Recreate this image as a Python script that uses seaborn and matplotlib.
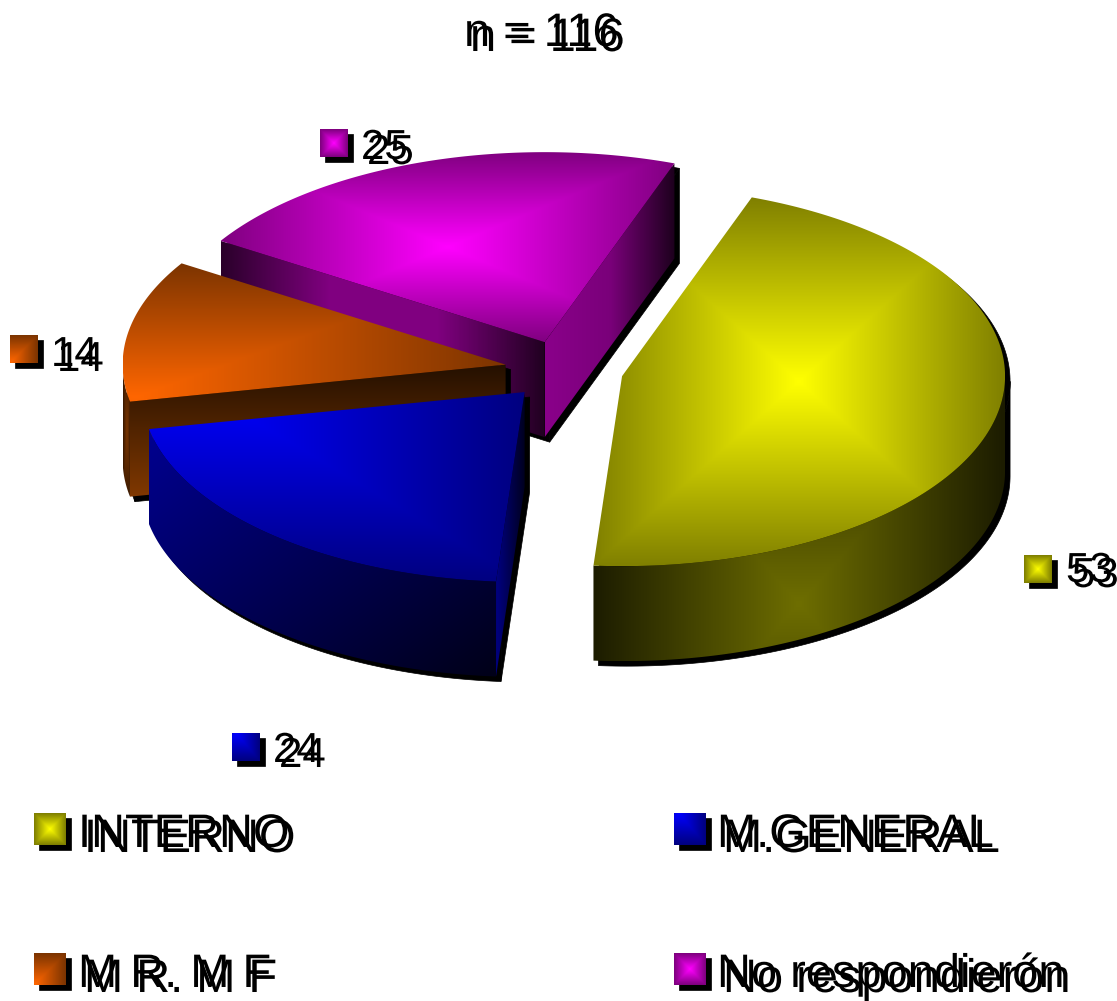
import itertools
import numpy as np
import matplotlib
matplotlib.use("Agg")
import matplotlib.pyplot as plt
import matplotlib.patheffects as pe
from matplotlib.patches import Polygon
import seaborn as sns

# ---- data ----
categories = ["INTERNO", "M.GENERAL", "M R. M F", "No respondierón"]
values = [53, 24, 14, 25]
title = "n = 116"

# ---- style / layout ----
sns.set_theme(style="white")
plt.rcParams["font.family"] = ["Liberation Sans", "DejaVu Sans"]
W, H = 1117, 1001
CX, CY, A, B, DEPTH, EXPLODE, START = 564, 370, 383, 190, 95, 0.155, 70.2
SHADOW = (5, 5)
FONT = 47 * 0.72
LABEL_FONT = 42 * 0.72
DRAW_ORDER = [3, 2, 1, 0]

top_stops = [["#ffff00", "#808000"], ["#0000ff", "#000080"], ["#ff6600", "#7c3400"], ["#ff00ff", "#800080"]]
top_focus = [(0.5, 0.5), (0.15, 0.0), (0.03, 0.97), (0.5, 0.5)]
rim_stops = [["#6e6e00", "#1c1c00"], ["#000090", "#000018"], ["#7a3500", "#3c1a00"], ["#800080", "#300030"]]
rim_focus = [(0.5, 0.8), None, (0.5, 0.5), (0.5, 0.5)]
# cut faces: start = first edge met going clockwise, end = last edge
start_face = [None, ("h", ["#000080", "#000020"]), ("v", ["#241000", "#803800"]),
              ("h", ["#2a002a", "#800080", "#800080", "#200020"])]
end_face = [None, None, None, ("h", ["#8a008a", "#7a007a", "#1e001e"])]

label_xy = [(1066, 582), (273, 762), (51, 366), (361, 159)]
mark_xy = [(1024, 555), (232, 733), (10, 335), (320, 129)]
legend_mark_xy = [(34, 813), (674, 813), (34, 953), (674, 953)]
legend_text_xy = [(78, 847), (717, 847), (78, 987), (717, 987)]
title_xy = (464, 46)

fig = plt.figure(figsize=(W / 100, H / 100), dpi=100)
ax = fig.add_axes([0, 0, 1, 1])
ax.set_axis_off()
z = itertools.count(2)


def shade(verts, stops, focus=None, axis=None):
    """Fill a polygon with a rectangular-path or linear gradient."""
    verts = np.asarray(verts)
    x0, y0 = verts.min(axis=0)
    x1, y1 = verts.max(axis=0)
    nx, ny = max(int(x1 - x0) + 2, 4), max(int(y1 - y0) + 2, 4)
    xs, ys = np.meshgrid(np.linspace(0, 1, nx), np.linspace(0, 1, ny))
    if axis == "h":
        t = xs
    elif axis == "v":
        t = ys
    elif focus is None:
        t = (xs + ys) / 2
    else:
        fx, fy = focus
        t = np.maximum(np.abs(xs - fx) / max(fx, 1 - fx), np.abs(ys - fy) / max(fy, 1 - fy))
    cmap = sns.blend_palette(stops, as_cmap=True)
    im = ax.imshow(t, cmap=cmap, vmin=0, vmax=1, extent=(x0, x1, y1, y0), aspect="auto",
                   origin="upper", zorder=next(z), interpolation="bilinear")
    im.set_clip_path(Polygon(verts, closed=True, transform=ax.transData))
    return im


def black(verts):
    ax.add_patch(Polygon(np.asarray(verts) + SHADOW, closed=True, fc="black", ec="black",
                         lw=0.5, zorder=next(z)))


total = sum(values)
edges = START - np.cumsum([0] + values) / total * 360.0


def wedge_geometry(i):
    a0, a1 = edges[i], edges[i + 1]
    mid = np.radians((a0 + a1) / 2)
    ox = CX + EXPLODE * A * np.cos(mid)
    oy = CY - EXPLODE * B * np.sin(mid)
    th = np.radians(np.linspace(a0, a1, 200))
    rim = np.c_[ox + A * np.cos(th), oy - B * np.sin(th)]
    return np.array([ox, oy]), rim, th


for i in DRAW_ORDER:
    apex, rim, th = wedge_geometry(i)
    down = np.array([0, DEPTH])
    top = np.vstack([apex, rim])
    vis = np.sin(th) <= 0
    rim_poly = sf = ef = None
    if vis.any():
        r = rim[vis]
        rim_poly = np.vstack([r, (r + down)[::-1]])
    if start_face[i] is not None:
        sf = np.array([apex, rim[0], rim[0] + down, apex + down])
    if end_face[i] is not None:
        ef = np.array([apex, rim[-1], rim[-1] + down, apex + down])
    black(top)
    for p in (rim_poly, sf, ef):
        if p is not None:
            black(p)
    if rim_poly is not None:
        shade(rim_poly, rim_stops[i], focus=rim_focus[i])
    if ef is not None:
        shade(ef, end_face[i][1], axis=end_face[i][0])
    if sf is not None:
        shade(sf, start_face[i][1], axis=start_face[i][0])
    shade(top, top_stops[i], focus=top_focus[i])


def doubled():
    return [pe.Normal(), pe.Stroke(offset=(6 * 0.72, -5 * 0.72), linewidth=0.01, foreground="black")]


def put_text(x, y, s, size=FONT):
    ax.text(x, y, s, fontsize=size, color="black", ha="left", va="baseline",
            path_effects=doubled(), zorder=next(z))


def swatch(x, y, i, size=30):
    sq = np.array([(x, y), (x + size, y), (x + size, y + size), (x, y + size)], float)
    black(sq)
    shade(sq, top_stops[i], focus=top_focus[i])


for i, v in enumerate(values):
    swatch(*mark_xy[i], i, size=28)
    put_text(*label_xy[i], str(v), size=LABEL_FONT)
    swatch(*legend_mark_xy[i], i, size=32)
    put_text(*legend_text_xy[i], categories[i])

put_text(*title_xy, title)

ax.set_xlim(0, W)
ax.set_ylim(H, 0)
fig.savefig("out.png", dpi=100, facecolor="white")
